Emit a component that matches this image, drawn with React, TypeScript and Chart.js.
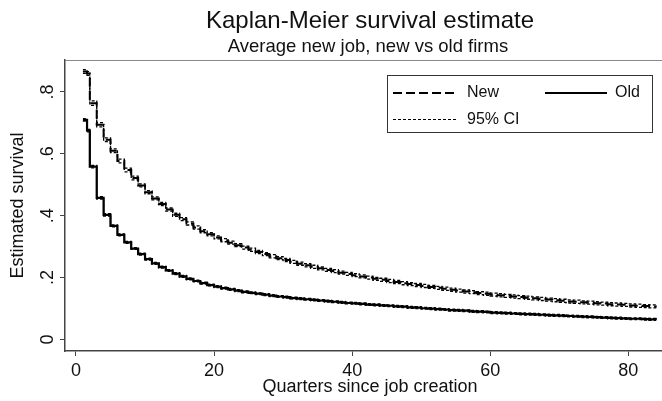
import React, { useEffect, useRef } from "react";
import { Chart, registerables } from "chart.js";

Chart.register(...registerables);

const FONT = "'Liberation Sans', Arial, Helvetica, sans-serif";

const titleText = "Kaplan-Meier survival estimate";
const subtitleText = "Average new job, new vs old firms";
const xAxisTitle = "Quarters since job creation";
const yAxisTitle = "Estimated survival";

const xTickValues = [0, 20, 40, 60, 80];
const xTickLabels = ["0", "20", "40", "60", "80"];
const yTickValues = [0, 0.2, 0.4, 0.6, 0.8];
const yTickLabels = ["0", ".2", ".4", ".6", ".8"];

const legendLabels = ["New", "Old", "95% CI"];

// time in quarters since job creation
const times = [
  1, 1.6, 2, 3, 4, 5, 6, 7, 8, 9,
  10, 11, 12, 13, 14, 15, 16, 17, 18, 19,
  20, 21, 22, 23, 24, 25, 26, 27, 28, 29,
  30, 31, 32, 33, 34, 35, 36, 37, 38, 39,
  40, 41, 42, 43, 44, 45, 46, 47, 48, 49,
  50, 51, 52, 53, 54, 55, 56, 57, 58, 59,
  60, 61, 62, 63, 64, 65, 66, 67, 68, 69,
  70, 71, 72, 73, 74, 75, 76, 77, 78, 79,
  80, 81, 82, 83, 84,
];

const newSurv = [
  0.866, 0.860, 0.764, 0.694, 0.646, 0.610, 0.577, 0.548, 0.522, 0.498,
  0.476, 0.456, 0.438, 0.420, 0.403, 0.389, 0.375, 0.362, 0.350, 0.340,
  0.330, 0.321, 0.313, 0.305, 0.297, 0.290, 0.283, 0.276, 0.269, 0.263,
  0.257, 0.251, 0.245, 0.240, 0.235, 0.230, 0.225, 0.221, 0.216, 0.212,
  0.208, 0.204, 0.200, 0.196, 0.193, 0.189, 0.186, 0.182, 0.179, 0.176,
  0.173, 0.170, 0.167, 0.164, 0.161, 0.158, 0.155, 0.153, 0.150, 0.148,
  0.145, 0.143, 0.141, 0.139, 0.137, 0.135, 0.133, 0.131, 0.129, 0.127,
  0.125, 0.123, 0.122, 0.120, 0.119, 0.117, 0.116, 0.114, 0.113, 0.112,
  0.110, 0.109, 0.108, 0.107, 0.106,
];

const newUpper = [
  0.872, 0.866, 0.771, 0.701, 0.652, 0.616, 0.583, 0.554, 0.528, 0.503,
  0.481, 0.461, 0.443, 0.425, 0.408, 0.394, 0.380, 0.367, 0.355, 0.345,
  0.335, 0.326, 0.318, 0.310, 0.302, 0.295, 0.288, 0.281, 0.274, 0.268,
  0.262, 0.256, 0.250, 0.245, 0.240, 0.235, 0.230, 0.226, 0.221, 0.217,
  0.213, 0.209, 0.205, 0.201, 0.198, 0.194, 0.191, 0.187, 0.184, 0.181,
  0.178, 0.175, 0.172, 0.169, 0.166, 0.163, 0.160, 0.158, 0.155, 0.153,
  0.150, 0.148, 0.146, 0.144, 0.142, 0.140, 0.138, 0.136, 0.134, 0.132,
  0.130, 0.128, 0.127, 0.125, 0.124, 0.122, 0.121, 0.119, 0.118, 0.117,
  0.115, 0.114, 0.113, 0.112, 0.111,
];

const newLower = [
  0.860, 0.854, 0.757, 0.687, 0.640, 0.604, 0.571, 0.542, 0.516, 0.493,
  0.471, 0.451, 0.433, 0.415, 0.398, 0.384, 0.370, 0.357, 0.345, 0.335,
  0.325, 0.316, 0.308, 0.300, 0.292, 0.285, 0.278, 0.271, 0.264, 0.258,
  0.252, 0.246, 0.240, 0.235, 0.230, 0.225, 0.220, 0.216, 0.211, 0.207,
  0.203, 0.199, 0.195, 0.191, 0.188, 0.184, 0.181, 0.177, 0.174, 0.171,
  0.168, 0.165, 0.162, 0.159, 0.156, 0.153, 0.150, 0.148, 0.145, 0.143,
  0.140, 0.138, 0.136, 0.134, 0.132, 0.130, 0.128, 0.126, 0.124, 0.122,
  0.120, 0.118, 0.117, 0.115, 0.114, 0.112, 0.111, 0.109, 0.108, 0.107,
  0.105, 0.104, 0.103, 0.102, 0.101,
];

const oldSurv = [
  0.710, 0.675, 0.559, 0.458, 0.403, 0.367, 0.338, 0.314, 0.294, 0.276,
  0.260, 0.246, 0.234, 0.223, 0.213, 0.204, 0.196, 0.189, 0.182, 0.176,
  0.171, 0.166, 0.162, 0.158, 0.154, 0.151, 0.148, 0.145, 0.142, 0.139,
  0.137, 0.134, 0.132, 0.130, 0.128, 0.126, 0.124, 0.122, 0.120, 0.118,
  0.117, 0.115, 0.113, 0.112, 0.110, 0.109, 0.107, 0.106, 0.104, 0.103,
  0.101, 0.100, 0.098, 0.097, 0.095, 0.094, 0.093, 0.091, 0.090, 0.089,
  0.087, 0.086, 0.085, 0.084, 0.083, 0.082, 0.081, 0.080, 0.079, 0.078,
  0.077, 0.076, 0.075, 0.074, 0.073, 0.072, 0.071, 0.070, 0.069, 0.068,
  0.067, 0.067, 0.066, 0.065, 0.064,
];

const oldUpper = [
  0.714, 0.679, 0.563, 0.462, 0.407, 0.370, 0.341, 0.317, 0.297, 0.279,
  0.263, 0.249, 0.237, 0.226, 0.216, 0.207, 0.199, 0.192, 0.185, 0.179,
  0.174, 0.169, 0.165, 0.161, 0.157, 0.154, 0.151, 0.148, 0.145, 0.142,
  0.140, 0.137, 0.135, 0.133, 0.131, 0.129, 0.127, 0.125, 0.123, 0.121,
  0.120, 0.118, 0.116, 0.115, 0.113, 0.112, 0.110, 0.109, 0.107, 0.106,
  0.104, 0.103, 0.101, 0.100, 0.098, 0.097, 0.096, 0.094, 0.093, 0.092,
  0.090, 0.089, 0.088, 0.087, 0.086, 0.085, 0.084, 0.083, 0.082, 0.081,
  0.080, 0.079, 0.078, 0.077, 0.076, 0.075, 0.074, 0.073, 0.072, 0.071,
  0.070, 0.070, 0.069, 0.068, 0.067,
];

const oldLower = [
  0.706, 0.671, 0.555, 0.454, 0.399, 0.364, 0.335, 0.311, 0.291, 0.273,
  0.257, 0.243, 0.231, 0.220, 0.210, 0.201, 0.193, 0.186, 0.179, 0.173,
  0.168, 0.163, 0.159, 0.155, 0.151, 0.148, 0.145, 0.142, 0.139, 0.136,
  0.134, 0.131, 0.129, 0.127, 0.125, 0.123, 0.121, 0.119, 0.117, 0.115,
  0.114, 0.112, 0.110, 0.109, 0.107, 0.106, 0.104, 0.103, 0.101, 0.100,
  0.098, 0.097, 0.095, 0.094, 0.092, 0.091, 0.090, 0.088, 0.087, 0.086,
  0.084, 0.083, 0.082, 0.081, 0.080, 0.079, 0.078, 0.077, 0.076, 0.075,
  0.074, 0.073, 0.072, 0.071, 0.070, 0.069, 0.068, 0.067, 0.066, 0.065,
  0.064, 0.064, 0.063, 0.062, 0.061,
];

const toPoints = (ys: number[]) => ys.map((y, i) => ({ x: times[i], y }));

const CANVAS_W = 738;
const CANVAS_H = 401;

const NEW_DASH = [9, 4];
const CI_DASH = [3, 2];

const decorPlugin = {
  id: "decor",
  afterDraw(chart: any) {
    const { ctx, chartArea } = chart;
    const cx = (chartArea.left + chartArea.right) / 2;
    ctx.save();
    // plot region frame (top/right)
    ctx.strokeStyle = "#8a8a8a";
    ctx.lineWidth = 1;
    ctx.setLineDash([]);
    ctx.beginPath();
    ctx.moveTo(chartArea.left, chartArea.top + 0.5);
    ctx.lineTo(chartArea.right, chartArea.top + 0.5);
    ctx.lineTo(chartArea.right, chartArea.bottom);
    ctx.stroke();

    // titles
    ctx.fillStyle = "#111";
    ctx.textAlign = "center";
    ctx.textBaseline = "middle";
    ctx.font = `24px ${FONT}`;
    ctx.fillText(titleText, cx, 21);
    ctx.font = `18.5px ${FONT}`;
    ctx.fillText(subtitleText, cx - 2, 47);

    // legend box
    const lx = chartArea.left + 322;
    const ly = chartArea.top + 15;
    const lw = 265;
    const lh = 57;
    ctx.strokeStyle = "#333";
    ctx.lineWidth = 1;
    ctx.strokeRect(lx + 0.5, ly + 0.5, lw, lh);

    const row1 = ly + 18;
    const row2 = ly + 44.5;
    ctx.strokeStyle = "#000";
    // New
    ctx.lineWidth = 2;
    ctx.setLineDash(NEW_DASH);
    ctx.beginPath();
    ctx.moveTo(lx + 6, row1);
    ctx.lineTo(lx + 70, row1);
    ctx.stroke();
    // Old
    ctx.setLineDash([]);
    ctx.beginPath();
    ctx.moveTo(lx + 158, row1);
    ctx.lineTo(lx + 220, row1);
    ctx.stroke();
    // CI
    ctx.lineWidth = 1;
    ctx.setLineDash(CI_DASH);
    ctx.beginPath();
    ctx.moveTo(lx + 6, row2);
    ctx.lineTo(lx + 70, row2);
    ctx.stroke();
    ctx.setLineDash([]);

    ctx.fillStyle = "#111";
    ctx.textAlign = "left";
    ctx.font = `16px ${FONT}`;
    ctx.fillText(legendLabels[0], lx + 80, row1);
    ctx.fillText(legendLabels[1], lx + 228, row1);
    ctx.fillText(legendLabels[2], lx + 80, row2);
    ctx.restore();
  },
};

export default function App() {
  const ref = useRef<HTMLCanvasElement | null>(null);

  useEffect(() => {
    if (!ref.current) return;
    document.body.style.margin = "0";
    const ciStyle = {
      borderColor: "#000",
      borderWidth: 1.3,
      borderDash: CI_DASH,
      stepped: "before",
      pointRadius: 0,
      fill: false,
    };
    const chart = new Chart(ref.current, {
      type: "line",
      data: {
        datasets: [
          { label: "New 95% CI upper", data: toPoints(newUpper), ...ciStyle },
          { label: "New 95% CI lower", data: toPoints(newLower), ...ciStyle },
          { label: "Old 95% CI upper", data: toPoints(oldUpper), ...ciStyle },
          { label: "Old 95% CI lower", data: toPoints(oldLower), ...ciStyle },
          {
            label: legendLabels[0],
            data: toPoints(newSurv),
            borderColor: "#000",
            borderWidth: 2,
            borderDash: NEW_DASH,
            stepped: "before",
            pointRadius: 0,
            fill: false,
          },
          {
            label: legendLabels[1],
            data: toPoints(oldSurv),
            borderColor: "#000",
            borderWidth: 2.2,
            stepped: "before",
            pointRadius: 0,
            fill: false,
          },
        ],
      },
      options: {
        animation: false,
        responsive: false,
        devicePixelRatio: 1,
        layout: { padding: { top: 60, right: 63, left: 0, bottom: 0 } },
        plugins: {
          legend: { display: false },
          title: { display: false },
          tooltip: { enabled: false },
        },
        scales: {
          x: {
            type: "linear",
            min: -1.593,
            max: 86.76,
            afterBuildTicks: (s: any) => {
              s.ticks = xTickValues.map((v) => ({ value: v }));
            },
            afterFit: (s: any) => {
              s.height = 50;
            },
            grid: {
              drawOnChartArea: false,
              drawTicks: true,
              tickLength: 5,
              tickColor: "#444",
              tickWidth: 1,
            },
            border: { display: true, color: "#444", width: 1.5 },
            ticks: {
              font: { family: FONT, size: 18 },
              color: "#111",
              padding: 4.5,
              maxRotation: 0,
              autoSkip: false,
              callback: (v: any) => {
                const i = xTickValues.findIndex((t) => Math.abs(t - Number(v)) < 1e-6);
                return i >= 0 ? xTickLabels[i] : "";
              },
            },
            title: {
              display: true,
              text: xAxisTitle,
              font: { family: FONT, size: 18 },
              color: "#111",
              padding: { top: 0, bottom: 3.5 },
            },
          },
          y: {
            type: "linear",
            min: -0.0372,
            max: 0.9034,
            afterBuildTicks: (s: any) => {
              s.ticks = yTickValues.map((v) => ({ value: v }));
            },
            afterFit: (s: any) => {
              s.width = 65;
            },
            grid: {
              drawOnChartArea: false,
              drawTicks: true,
              tickLength: 5,
              tickColor: "#444",
              tickWidth: 1,
            },
            border: { display: true, color: "#444", width: 1.5 },
            ticks: {
              font: { family: FONT, size: 18 },
              color: "#111",
              padding: 4.5,
              minRotation: 90,
              maxRotation: 90,
              crossAlign: "center",
              autoSkip: false,
              callback: (v: any) => {
                const i = yTickValues.findIndex((t) => Math.abs(t - Number(v)) < 1e-6);
                return i >= 0 ? yTickLabels[i] : "";
              },
            },
            title: {
              display: true,
              text: yAxisTitle,
              font: { family: FONT, size: 18 },
              color: "#111",
              padding: { top: 7.3, bottom: 0 },
            },
          },
        },
      },
      plugins: [decorPlugin],
    } as any);
    return () => chart.destroy();
  }, []);

  return (
    <div
      style={{
        position: "fixed",
        left: 0,
        top: 0,
        width: CANVAS_W,
        height: CANVAS_H,
        background: "#fff",
        overflow: "hidden",
      }}
    >
      <canvas ref={ref} width={CANVAS_W} height={CANVAS_H} style={{ width: CANVAS_W, height: CANVAS_H }} />
    </div>
  );
}
